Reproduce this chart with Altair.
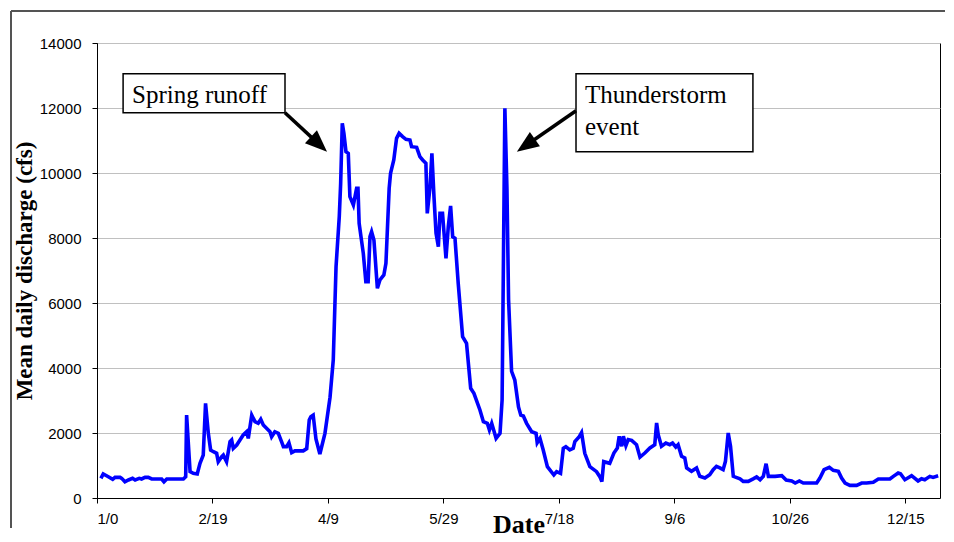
import altair as alt
import pandas as pd

# ---- data ----
day = [1.7, 2.7, 4.9, 6.8, 7.8, 10.0, 10.7, 12.1, 13.6, 15.4, 16.5, 18.3, 19.3, 20.8, 22.2, 23.7,
       25.8, 28.0, 29.0, 30.2, 33.0, 37.4, 38.4, 38.8, 40.3, 41.7, 43.4, 44.6, 46.0, 47.0, 48.2,
       49.2, 50.4, 51.8, 52.5, 54.0, 54.7, 56.1, 57.6, 58.3, 59.0, 60.5, 61.9, 63.3, 64.8, 65.5,
       67.0, 68.4, 69.8, 70.9, 72.0, 73.4, 74.9, 75.6, 77.0, 78.5, 79.9, 80.7, 82.1, 83.1, 84.3,
       85.7, 89.3, 90.8, 91.9, 92.6, 93.6, 94.8, 96.5, 98.7, 100.9, 102.3, 103.5, 104.9, 105.5,
       106.2, 106.9, 107.8, 108.8, 109.5, 111.0, 112.4, 113.0, 113.5, 115.3, 116.4, 117.4, 118.2,
       118.9, 119.9, 121.4, 122.5, 124.2, 125.1, 126.5, 127.1, 128.5, 129.7, 130.8, 132.3, 133.8,
       135.5, 136.2, 138.4, 139.8, 141.0, 142.4, 143.0, 144.2, 145.0, 145.9, 146.8, 147.8, 148.5,
       149.6, 151.1, 152.1, 153.1, 154.0, 155.0, 156.4, 158.3, 160.0, 161.8, 163.2, 165.8, 167.3,
       169.0, 169.9, 170.9, 172.8, 174.5, 175.4, 176.6, 177.5, 178.2, 179.5, 180.9, 182.5, 183.5,
       184.6, 186.0, 188.2, 190.1, 190.6, 191.8, 193.2, 195.0, 197.8, 199.0, 200.7, 201.9, 203.0,
       204.7, 206.2, 206.9, 208.8, 209.8, 211.2, 213.4, 216.3, 217.7, 218.6, 219.4, 222.0, 223.8,
       225.3, 226.1, 227.2, 227.9, 229.0, 230.0, 231.5, 233.6, 235.1, 237.2, 239.4, 241.5, 242.3,
       243.0, 244.4, 246.3, 248.0, 249.2, 250.6, 251.6, 253.1, 254.5, 255.3, 257.4, 259.6, 261.0,
       263.2, 265.3, 266.8, 268.2, 269.7, 271.1, 272.1, 273.3, 274.3, 275.5, 278.4, 279.8, 282.0,
       284.1, 285.6, 287.1, 288.5, 289.7, 290.7, 293.6, 296.5, 298.4, 300.8, 302.3, 304.1, 305.8,
       311.6, 313.0, 314.8, 317.1, 318.8, 321.0, 322.4, 323.9, 326.0, 328.9, 331.1, 333.2, 336.1,
       338.3, 343.3, 344.8, 346.9, 347.9, 349.8, 352.7, 355.5, 357.0, 358.4, 360.6, 362.0, 364.2]
cfs = [605, 740, 655, 575, 635, 635, 605, 500, 555, 605, 555, 605, 585, 635, 635, 585,
       585, 585, 500, 585, 585, 585, 655, 2550, 810, 760, 740, 1065, 1320, 2910, 1990,
       1475, 1425, 1375, 1115, 1270, 1320, 1115, 1735, 1785, 1525, 1630, 1785, 1940, 2040, 1835,
       2550, 2350, 2300, 2420, 2245, 2145, 2040, 1885, 2040, 1990, 1735, 1580, 1580, 1700, 1395,
       1450, 1450, 1520, 2400, 2500, 2550, 1820, 1354, 1990, 3100, 4246, 7118, 8656, 9682,
       11528, 11221, 10656, 10605, 9272, 9016, 9529, 9529, 8452, 7528, 6656, 6656, 8041,
       8195, 7939, 6451, 6708, 6862, 7221, 9529, 9990, 10400, 11067, 11221, 11118, 11036,
       11016, 10810, 10790, 10502, 10400, 10298, 8759, 9580, 10605, 9272, 8144, 7733, 8759,
       8759, 7375, 8349, 8985, 8041, 7990, 6605, 4963, 4759, 3375, 3221, 2708, 2349,
       2298, 2092, 2298, 1836, 1990, 3015, 11990, 9500, 6100, 3900, 3630, 2800, 2550,
       2523, 2298, 2041, 1990, 1700, 1836, 1477, 964, 708, 810, 759, 1528, 1579,
       1477, 1528, 1733, 1887, 2010, 1374, 964, 810, 656, 503, 1118, 1067, 1384,
       1539, 1897, 1590, 1897, 1610, 1795, 1775, 1641, 1258, 1384, 1539, 1641, 2308,
       1949, 1590, 1692, 1641, 1692, 1570, 1641, 1282, 1231, 926, 821, 926, 667,
       615, 718, 872, 974, 926, 872, 1128, 2000, 1590, 667, 590, 512, 512,
       590, 650, 563, 666, 1055, 666, 666, 686, 553, 523, 461, 523, 461,
       461, 615, 872, 943, 851, 820, 615, 461, 389, 389, 461, 461, 482,
       584, 584, 666, 769, 748, 563, 686, 523, 594, 563, 666, 635, 686]

tick_days = [0, 50, 100, 150, 200, 250, 300, 350]
tick_labels = ["1/0", "2/19", "4/9", "5/29", "7/18", "9/6", "10/26", "12/15"]
y_ticks = [0, 2000, 4000, 6000, 8000, 10000, 12000, 14000]

box_labels = ["Spring runoff", "Thunderstorm", "event"]

# annotation geometry (in data units)
box_x1 = [11.3, 207.4]
box_x2 = [81.4, 284.0]
box_y1 = [11855, 10655]
box_y2 = [13055, 13055]
txt_x = [15.2, 211.3, 211.3]
txt_y = [12163, 12163, 11179]
arr_x1 = [81.4, 207.4]
arr_y1 = [11855, 11917]
arr_x2 = [96.4, 185.4]
arr_y2 = [10865, 10831]
tip_x = [99.6, 181.8]
tip_y = [10655, 10655]
tip_angle = [133, 235]

df = pd.DataFrame({"day": day, "cfs": cfs})
boxes = pd.DataFrame({"x1": box_x1, "x2": box_x2, "y1": box_y1, "y2": box_y2})
texts = pd.DataFrame({"x": txt_x, "y": txt_y, "t": box_labels})
arrows = pd.DataFrame({"x1": arr_x1, "y1": arr_y1, "x2": arr_x2, "y2": arr_y2})
tips = pd.DataFrame({"x": tip_x, "y": tip_y, "a": tip_angle})

label_expr = "[" + ",".join("'%s'" % s for s in tick_labels) + "][round(datum.value/50)]"

xscale = alt.Scale(domain=[0, 365], nice=False, zero=False)
yscale = alt.Scale(domain=[0, 14000], nice=False)

x_axis = alt.Axis(values=tick_days, labelExpr=label_expr, grid=False, title="Date",
                  titleFontSize=26, titlePadding=-15, tickSize=5, labelPadding=8,
                  titleFont="Liberation Serif", titleFontWeight="bold", titleColor="black")
y_axis = alt.Axis(values=y_ticks, format="d", grid=True, gridColor="#c0c0c0",
                  title="Mean daily discharge (cfs)", titleFontSize=23, titlePadding=3,
                  labelPadding=11, tickSize=5, titleFont="Liberation Serif",
                  titleFontWeight="bold", titleColor="black")

line = alt.Chart(df).mark_line(color="#0000ff", strokeWidth=3.6).encode(
    x=alt.X("day:Q", scale=xscale, axis=x_axis),
    y=alt.Y("cfs:Q", scale=yscale, axis=y_axis),
)

box = alt.Chart(boxes).mark_rect(fill="white", stroke="black", strokeWidth=1.5).encode(
    x=alt.X("x1:Q", scale=xscale), x2="x2:Q",
    y=alt.Y("y1:Q", scale=yscale), y2="y2:Q",
)

txt = alt.Chart(texts).mark_text(align="left", baseline="alphabetic", font="Liberation Serif",
                                 fontSize=25, color="black").encode(
    x=alt.X("x:Q", scale=xscale), y=alt.Y("y:Q", scale=yscale), text="t:N"
)

arr = alt.Chart(arrows).mark_rule(color="black", strokeWidth=3.5).encode(
    x=alt.X("x1:Q", scale=xscale), x2="x2:Q",
    y=alt.Y("y1:Q", scale=yscale), y2="y2:Q",
)

head = alt.Chart(tips).mark_point(shape="M0,0L-0.8,2L0.8,2Z", filled=True, color="black",
                                  opacity=1, size=484).encode(
    x=alt.X("x:Q", scale=xscale), y=alt.Y("y:Q", scale=yscale),
    angle=alt.Angle("a:Q", scale=None),
)

frame_top = alt.Chart(df).mark_rule(color="#555555", strokeWidth=1.5).encode(
    x=alt.value(-86), x2=alt.value(848), y=alt.value(-32)
)
frame_left = alt.Chart(df).mark_rule(color="#555555", strokeWidth=1.5).encode(
    x=alt.value(-86), y=alt.value(-32), y2=alt.value(485)
)

chart = alt.layer(frame_top, frame_left, line, box, txt, arr, head).properties(
    width=843, height=455,
    padding={"left": 2, "top": 2, "right": 0, "bottom": 0},
).configure_view(stroke="black", strokeWidth=1).configure_axis(
    labelFont="Liberation Sans", labelFontSize=15, labelColor="black",
    domainColor="black", tickColor="black",
)

chart.save("out.html", embed_options={"renderer": "svg", "actions": False})
